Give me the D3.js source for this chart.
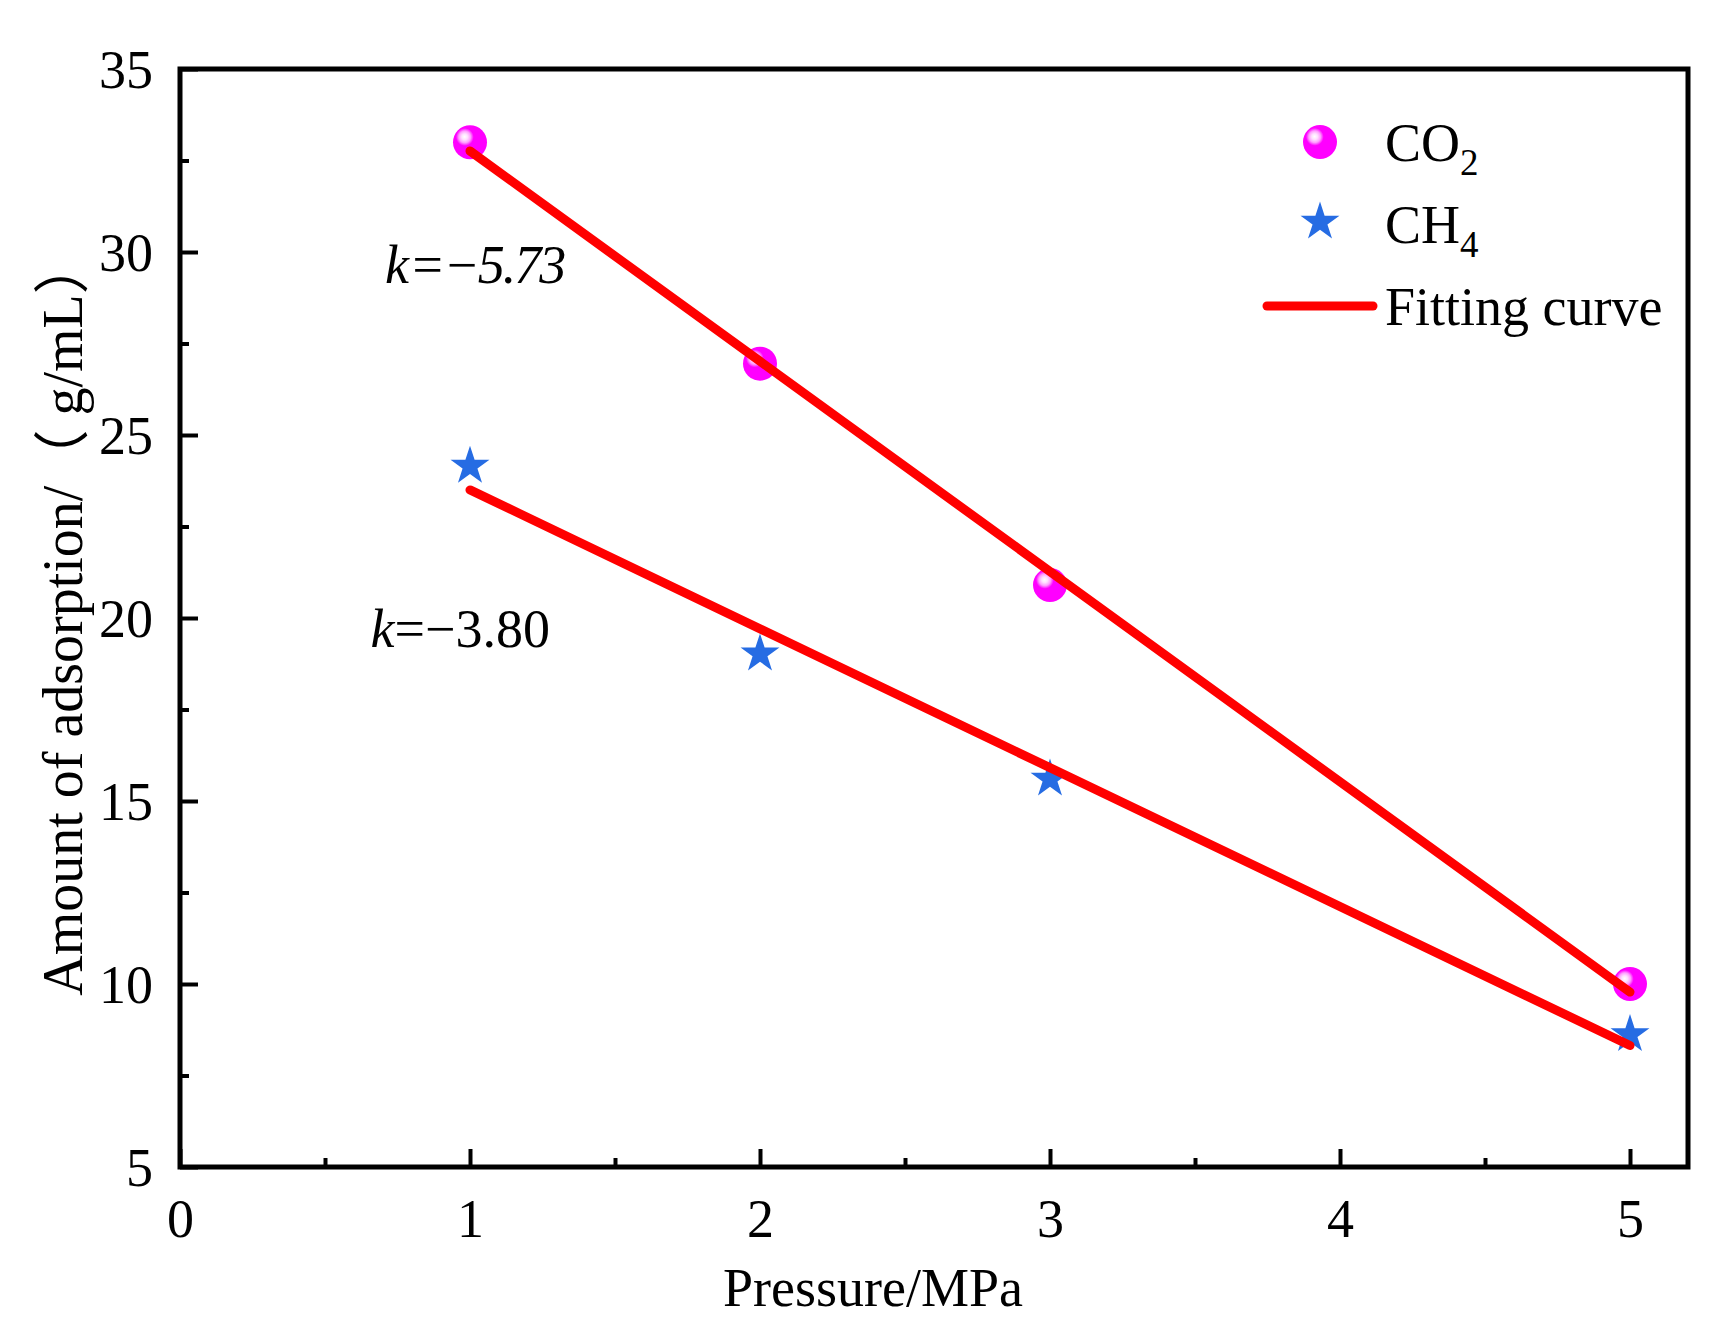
<!DOCTYPE html>
<html>
<head>
<meta charset="utf-8">
<script src="https://cdn.jsdelivr.net/npm/d3@7"></script>
<style>
  body { margin: 0; background: #fff; }
  text { font-family: "Times New Roman", "Liberation Serif", "Noto Sans CJK SC", serif; fill: #000; }
</style>
</head>
<body>
<div id="chart"></div>
<script>
// data
const pressure = [1, 2, 3, 5];
const co2Values = [33.0, 26.95, 20.9, 10.0];
const ch4Values = [24.15, 19.02, 15.6, 8.62];
const co2Fit = [[1, 32.76], [5, 9.78]];
const ch4Fit = [[1, 23.5], [5, 8.32]];
const xTicks = [0, 1, 2, 3, 4, 5];
const xMinor = [0.5, 1.5, 2.5, 3.5, 4.5];
const yTicks = [5, 10, 15, 20, 25, 30, 35];
const yMinor = [7.5, 12.5, 17.5, 22.5, 27.5, 32.5];
const slopeLabels = [
  { text: "\u22125.73", italicAll: true, x: 1.0, y: 29.15 },
  { text: "\u22123.80", italicAll: false, x: 0.95, y: 19.2 }
];

const W = 1717, H = 1335;
const margin = { top: 69, right: 29, bottom: 168, left: 180 },
      width = W - margin.left - margin.right,
      height = H - margin.top - margin.bottom;

const svgRoot = d3.select("#chart")
  .append("svg")
    .attr("width", W)
    .attr("height", H);

const defs = svgRoot.append("defs");
const grad = defs.append("radialGradient")
    .attr("id", "sphere")
    .attr("cx", 0.36).attr("cy", 0.36).attr("r", 0.62)
    .attr("fx", 0.34).attr("fy", 0.34);
grad.append("stop").attr("offset", "0%").attr("stop-color", "#ffffff");
grad.append("stop").attr("offset", "14%").attr("stop-color", "#ffe0ff");
grad.append("stop").attr("offset", "28%").attr("stop-color", "#ff9cff");
grad.append("stop").attr("offset", "42%").attr("stop-color", "#ff00ff");
grad.append("stop").attr("offset", "100%").attr("stop-color", "#ff00ff");

const svg = svgRoot.append("g")
    .attr("transform", `translate(${margin.left},${margin.top})`);

const x = d3.scaleLinear().domain([0, 5.2]).range([0, width]);
const y = d3.scaleLinear().domain([5, 35]).range([height, 0]);

const fontSize = 54;

// minor ticks
svg.append("g")
    .attr("transform", `translate(0,${height})`)
    .call(d3.axisBottom(x).tickValues(xMinor).tickSize(-9).tickFormat(""))
    .call(g => g.select(".domain").remove())
    .call(g => g.selectAll("line").attr("stroke-width", 4));

svg.append("g")
    .call(d3.axisLeft(y).tickValues(yMinor).tickSize(-9).tickFormat(""))
    .call(g => g.select(".domain").remove())
    .call(g => g.selectAll("line").attr("stroke-width", 4));

// major ticks
svg.append("g")
    .attr("transform", `translate(0,${height})`)
    .call(d3.axisBottom(x).tickValues(xTicks).tickSizeInner(-18).tickSizeOuter(0).tickPadding(0).tickFormat(d3.format("d")))
    .call(g => g.select(".domain").remove())
    .call(g => g.selectAll("line").attr("stroke-width", 4))
    .call(g => g.selectAll("text")
        .attr("y", 70).attr("dy", null)
        .style("font-size", fontSize + "px"));

svg.append("g")
    .call(d3.axisLeft(y).tickValues(yTicks).tickSizeInner(-18).tickSizeOuter(0).tickPadding(0).tickFormat(d3.format("d")))
    .call(g => g.select(".domain").remove())
    .call(g => g.selectAll("line").attr("stroke-width", 4))
    .call(g => g.selectAll("text")
        .attr("x", -27).attr("dy", "0.34em")
        .style("font-size", fontSize + "px"));

// frame
svg.append("rect")
    .attr("x", 0).attr("y", 0)
    .attr("width", width).attr("height", height)
    .attr("fill", "none")
    .attr("stroke", "#000")
    .attr("stroke-width", 5);

// axis titles
svg.append("text")
    .attr("x", 693)
    .attr("y", height + 139)
    .attr("text-anchor", "middle")
    .style("font-size", fontSize + "px")
    .text("Pressure/MPa");

svg.append("text")
    .attr("transform", `translate(${-98},${height / 2 - 1}) rotate(-90)`)
    .attr("text-anchor", "middle")
    .style("font-size", "56px")
    .text("Amount of adsorption/\uFF08 g/mL\uFF09");

// markers
const star = d3.symbol().type(d3.symbolStar).size(470);

svg.selectAll(".co2")
  .data(pressure)
  .enter().append("circle")
    .attr("class", "co2")
    .attr("cx", d => x(d))
    .attr("cy", (d, i) => y(co2Values[i]))
    .attr("r", 17)
    .attr("fill", "url(#sphere)");

svg.selectAll(".ch4")
  .data(pressure)
  .enter().append("path")
    .attr("class", "ch4")
    .attr("d", star)
    .attr("transform", (d, i) => `translate(${x(d)},${y(ch4Values[i])})`)
    .attr("fill", "#266ce3");

// fitting lines
const line = d3.line().x(d => x(d[0])).y(d => y(d[1]));
[co2Fit, ch4Fit].forEach(fit => {
  svg.append("path")
    .attr("d", line(fit))
    .attr("fill", "none")
    .attr("stroke", "#ff0000")
    .attr("stroke-width", 9)
    .attr("stroke-linecap", "round");
});

// slope labels
slopeLabels.forEach(s => {
  const t = svg.append("text")
    .attr("x", x(s.x) - 85)
    .attr("y", y(s.y))
    .style("font-size", fontSize + "px");
  t.append("tspan").style("font-style", "italic").text("k");
  t.append("tspan")
    .style("font-style", s.italicAll ? "italic" : "normal")
    .style("letter-spacing", s.italicAll ? "-2px" : "0px")
    .text("=" + s.text);
});

// legend
const lg = svg.append("g").attr("transform", `translate(${1320 - margin.left},${142 - margin.top})`);
lg.append("circle").attr("cx", 0).attr("cy", 0).attr("r", 17).attr("fill", "url(#sphere)");
lg.append("path").attr("d", star).attr("transform", "translate(0,80)").attr("fill", "#266ce3");
lg.append("line")
    .attr("x1", -53).attr("x2", 53).attr("y1", 164).attr("y2", 164)
    .attr("stroke", "#ff0000").attr("stroke-width", 9).attr("stroke-linecap", "round");

const legendText = [["CO", "2", 19], ["CH", "4", 101], ["Fitting curve", "", 183]];
legendText.forEach(([main, sub, ty]) => {
  const t = lg.append("text").attr("x", 65).attr("y", ty).style("font-size", fontSize + "px");
  t.append("tspan").text(main);
  if (sub) t.append("tspan").attr("dy", 14).style("font-size", "37px").text(sub);
});
</script>
</body>
</html>
